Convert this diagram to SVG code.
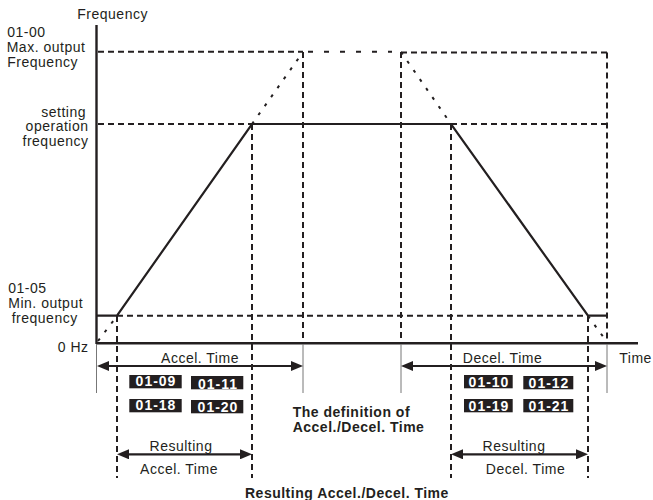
<svg xmlns="http://www.w3.org/2000/svg" width="653" height="500" viewBox="0 0 653 500">
<defs>
<style>
text{font-family:"Liberation Sans",Arial,sans-serif;fill:#231f20}
.lb{font-size:14px;letter-spacing:0.5px}
.bd{font-size:14px;font-weight:bold;letter-spacing:0.5px}
.bx{font-size:14px;font-weight:bold;fill:#fff;text-anchor:middle;letter-spacing:1px}
.box{fill:#231f20}
.ax{stroke:#231f20;stroke-width:2.4;fill:none}
.sl{stroke:#231f20;stroke-width:2.2;fill:none}
.ds{stroke:#231f20;stroke-width:2;stroke-dasharray:6 4;fill:none}
.dsw{stroke:#231f20;stroke-width:2;stroke-dasharray:5 11;fill:none}
.dt{stroke:#231f20;stroke-width:2;stroke-dasharray:3 8;fill:none}
.th{stroke:#777;stroke-width:1;fill:none}
.ar{stroke:#231f20;stroke-width:2.2;fill:none;marker-start:url(#ah);marker-end:url(#ah)}
</style>
<marker id="ah" viewBox="0 0 12 10" refX="6" refY="5" markerWidth="12" markerHeight="10" markerUnits="userSpaceOnUse" orient="auto-start-reverse">
<path d="M0,0 L12,5 L0,10 z" fill="#231f20"/>
</marker>
</defs>

<g id="axes">
<line class="ax" x1="96.5" y1="25" x2="96.5" y2="344"/>
<line class="ax" x1="96" y1="343.3" x2="638" y2="343.3"/>
<line class="th" x1="96.5" y1="344" x2="96.5" y2="393"/>
<line class="th" x1="303" y1="344" x2="303" y2="393"/>
<line class="th" x1="401" y1="344" x2="401" y2="393"/>
<line class="th" x1="607" y1="344" x2="607" y2="393"/>
</g>

<g id="guides">
<line class="ds" x1="98" y1="51.7" x2="303" y2="51.7"/>
<line class="dsw" x1="308" y1="51.7" x2="392" y2="51.7"/>
<line class="ds" x1="401" y1="52.5" x2="607" y2="52.5"/>
<line class="ds" x1="303" y1="52" x2="303" y2="343"/>
<line class="ds" x1="401" y1="52" x2="401" y2="343"/>
<line class="ds" x1="607" y1="52.5" x2="607" y2="343"/>
<line class="ds" x1="98" y1="124" x2="252" y2="124"/>
<line class="ds" x1="451" y1="124" x2="607" y2="124"/>
<line class="ds" x1="117" y1="315.7" x2="588" y2="315.7"/>
<line class="ds" x1="117" y1="316" x2="117" y2="478"/>
<line class="ds" x1="252" y1="124" x2="252" y2="478"/>
<line class="ds" x1="451" y1="124" x2="451" y2="478"/>
<line class="ds" x1="588" y1="316" x2="588" y2="478"/>
</g>

<g id="curve">
<polyline class="sl" points="96,315.7 117,315.7 252,124 451,124 588,315.7 607,315.7"/>
<line class="dt" x1="252" y1="124" x2="303" y2="52"/>
<line class="dt" x1="401" y1="52" x2="451" y2="124"/>
<line class="dt" x1="98" y1="341" x2="117" y2="316"/>
<line class="dt" x1="588" y1="316" x2="607" y2="342"/>
</g>

<g id="connectors">
<line class="ar" x1="103" y1="366" x2="297" y2="366"/>
<line class="ar" x1="407" y1="366" x2="601" y2="366"/>
<line class="ar" x1="123" y1="454.3" x2="246" y2="454.3"/>
<line class="ar" x1="457" y1="454.3" x2="582" y2="454.3"/>
</g>

<g id="axis-labels">
<text class="lb" x="77.3" y="18.8">Frequency</text>
<text class="lb" x="7.3" y="37">01-00</text>
<text class="lb" x="6.7" y="52">Max. output</text>
<text class="lb" x="7.3" y="67">Frequency</text>
<text class="lb" x="86" y="116.5" text-anchor="end">setting</text>
<text class="lb" x="88.5" y="131" text-anchor="end">operation</text>
<text class="lb" x="88.5" y="145.5" text-anchor="end">frequency</text>
<text class="lb" x="8.3" y="293">01-05</text>
<text class="lb" x="8.3" y="308">Min. output</text>
<text class="lb" x="11.7" y="323">frequency</text>
<text class="lb" x="88.5" y="351.7" text-anchor="end">0 Hz</text>
<text class="lb" x="619.3" y="363">Time</text>
</g>

<g id="accel-time">
<text class="lb" x="200" y="363" text-anchor="middle">Accel. Time</text>
</g>
<g id="decel-time">
<text class="lb" x="502.5" y="363" text-anchor="middle">Decel. Time</text>
</g>

<g id="box-01-09"><rect class="box" x="129.3" y="375" width="52.4" height="13.3"/><text class="bx" x="156" y="386">01-09</text></g>
<g id="box-01-11"><rect class="box" x="191" y="376" width="52.3" height="13.3"/><text class="bx" x="218" y="388.5">01-11</text></g>
<g id="box-01-18"><rect class="box" x="129.3" y="399" width="52.4" height="13.3"/><text class="bx" x="156" y="410">01-18</text></g>
<g id="box-01-20"><rect class="box" x="191" y="400" width="52.3" height="13.3"/><text class="bx" x="218" y="412">01-20</text></g>
<g id="box-01-10"><rect class="box" x="464" y="375" width="48.7" height="13.3"/><text class="bx" x="489" y="386.5">01-10</text></g>
<g id="box-01-12"><rect class="box" x="523.3" y="376" width="50" height="13.3"/><text class="bx" x="549" y="387.5">01-12</text></g>
<g id="box-01-19"><rect class="box" x="464" y="399" width="48.7" height="13.3"/><text class="bx" x="489" y="410.5">01-19</text></g>
<g id="box-01-21"><rect class="box" x="523.3" y="399" width="50" height="13.3"/><text class="bx" x="549" y="410.5">01-21</text></g>

<g id="definition">
<text class="bd" x="292.7" y="416.5">The definition of</text>
<text class="bd" x="292.7" y="432">Accel./Decel. Time</text>
</g>

<g id="resulting-accel">
<text class="lb" x="181" y="450.7" text-anchor="middle">Resulting</text>
<text class="lb" x="179" y="474" text-anchor="middle">Accel. Time</text>
</g>
<g id="resulting-decel">
<text class="lb" x="514" y="450.7" text-anchor="middle">Resulting</text>
<text class="lb" x="525.5" y="474" text-anchor="middle">Decel. Time</text>
</g>

<g id="resulting-title">
<text class="bd" x="245" y="497.5" letter-spacing="0.9">Resulting Accel./Decel. Time</text>
</g>
</svg>
